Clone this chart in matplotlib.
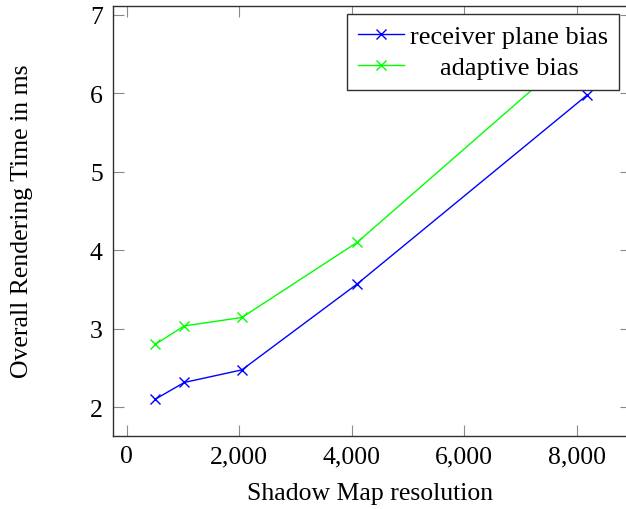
import matplotlib
matplotlib.use("Agg")
import matplotlib.pyplot as plt
from matplotlib.ticker import FuncFormatter

resolution = [512, 1024, 2048, 4096, 8192]
receiver_plane = [2.105, 2.317, 2.477, 3.57, 5.98]
adaptive = [2.804, 3.037, 3.144, 4.10, 6.66]
series_labels = ["receiver plane bias", "adaptive bias"]

W, H = 626, 510
plt.rcParams['font.family'] = ['Liberation Serif', 'DejaVu Serif']
fs = 18.5
fig = plt.figure(figsize=(W/100, H/100), dpi=100)
left, right, top, bottom = 112.5, 630.7, 6.7, 436.7
ax = fig.add_axes([left/W, 1-bottom/H, (right-left)/W, (bottom-top)/H])

ax.plot(resolution, receiver_plane, color=(0, 0, 1), lw=1.0, marker='x', ms=7, mew=1.0, label=series_labels[0])
ax.plot(resolution, adaptive, color=(0, 1, 0), lw=1.0, marker='x', ms=7, mew=1.0, label=series_labels[1])

ax.set_xlim(-252, 8960)
ax.set_ylim(1.639, 7.114)
ax.set_xticks([0, 2000, 4000, 6000, 8000])
ax.set_yticks([2, 3, 4, 5, 6, 7])
ax.xaxis.set_major_formatter(FuncFormatter(lambda v, p: f"{int(v):,}"))
ax.yaxis.set_major_formatter(FuncFormatter(lambda v, p: f"{int(v)}"))
ax.tick_params(direction='in', length=8, width=0.8, color='#8a8a8a', labelsize=fs,
               top=True, right=True, pad=7)
for s in ax.spines.values():
    s.set_color('#303030')
    s.set_linewidth(1.0)

ax.set_xlabel("Shadow Map resolution", fontsize=fs, va='center')
ax.set_ylabel("Overall Rendering Time in ms", fontsize=fs, va='center')
ax.xaxis.set_label_coords((370 - left)/(right-left), -(494-bottom)/(bottom-top))
ax.yaxis.set_label_coords((22 - left)/(right-left), (bottom-221)/(bottom-top))

leg = ax.legend(loc='upper right', bbox_to_anchor=(619/W, 1-15/H), bbox_transform=fig.transFigure,
                borderaxespad=0, fontsize=19, handlelength=1.75, handletextpad=0.25,
                labelspacing=0.3, borderpad=0.4, fancybox=False, framealpha=1,
                edgecolor='#303030')
leg.get_frame().set_linewidth(1.0)
texts = leg.get_texts()
texts[1].set_position((30, 0))

fig.savefig("out.png", dpi=100)
